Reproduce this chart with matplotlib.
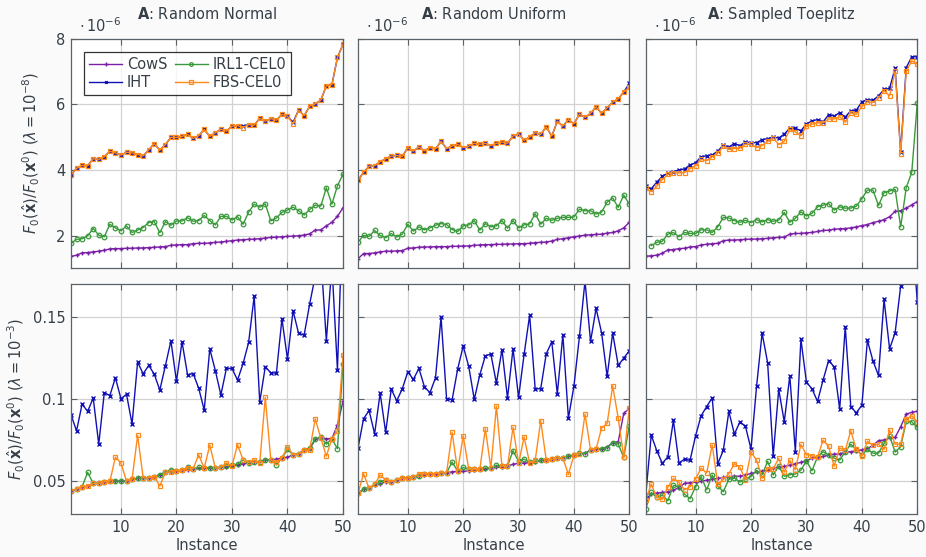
import numpy as np
import matplotlib
matplotlib.use("Agg")
import matplotlib.pyplot as plt

# ---------------------------------------------------------------- data
instances = list(range(1, 51))
x_ticks = [10, 20, 30, 40, 50]
top_ticks = [2, 4, 6, 8]
bottom_ticks = [0.05, 0.1, 0.15]
bottom_tick_labels = ["0.05", "0.1", "0.15"]
titles = ["Random Normal", "Random Uniform", "Sampled Toeplitz"]
methods = ["CowS", "IRL1-CEL0", "IHT", "FBS-CEL0"]

# lambda = 1e-8 (values in units of 1e-6)
cows_normal_e8 = [1.38, 1.42, 1.49, 1.50, 1.52, 1.54, 1.57, 1.61, 1.62, 1.62,
                  1.63, 1.63, 1.64, 1.64, 1.65, 1.66, 1.67, 1.68, 1.72, 1.73,
                  1.74, 1.74, 1.77, 1.78, 1.78, 1.79, 1.81, 1.82, 1.84, 1.86,
                  1.88, 1.89, 1.90, 1.91, 1.92, 1.94, 1.96, 1.97, 1.98, 1.99,
                  2.00, 2.01, 2.03, 2.07, 2.18, 2.19, 2.31, 2.42, 2.60, 2.86]
irl1_normal_e8 = [1.78, 1.90, 1.92, 2.01, 2.23, 2.03, 1.98, 2.36, 2.25, 2.16,
                  2.31, 2.11, 2.18, 2.26, 2.41, 2.44, 2.10, 2.44, 2.33, 2.46,
                  2.46, 2.56, 2.45, 2.47, 2.63, 2.47, 2.34, 2.60, 2.60, 2.49,
                  2.59, 2.36, 2.73, 2.97, 2.88, 2.98, 2.46, 2.55, 2.72, 2.79,
                  2.88, 2.77, 2.64, 2.81, 2.94, 2.91, 3.47, 2.97, 3.53, 3.88]
iht_normal_e8 = [3.86, 4.06, 4.15, 4.14, 4.35, 4.33, 4.41, 4.58, 4.53, 4.46,
                 4.55, 4.53, 4.48, 4.44, 4.62, 4.81, 4.61, 4.78, 5.00, 5.00,
                 5.03, 5.09, 4.97, 5.05, 5.24, 5.03, 5.14, 5.25, 5.19, 5.34,
                 5.36, 5.34, 5.39, 5.37, 5.58, 5.49, 5.57, 5.52, 5.70, 5.64,
                 5.46, 5.83, 5.66, 5.95, 6.02, 6.13, 6.57, 6.60, 7.43, 7.83]
fbs_normal_e8 = [3.86, 4.06, 4.15, 4.14, 4.35, 4.33, 4.41, 4.58, 4.53, 4.46,
                 4.55, 4.53, 4.48, 4.44, 4.62, 4.81, 4.61, 4.78, 5.00, 5.00,
                 5.03, 5.09, 4.97, 5.05, 5.24, 5.03, 5.14, 5.25, 5.19, 5.34,
                 5.36, 5.30, 5.39, 5.37, 5.58, 5.49, 5.57, 5.52, 5.70, 5.64,
                 5.41, 5.83, 5.66, 5.95, 6.02, 6.13, 6.57, 6.60, 7.43, 7.83]

cows_uniform_e8 = [1.31, 1.47, 1.47, 1.49, 1.52, 1.54, 1.54, 1.55, 1.56, 1.63,
                   1.64, 1.66, 1.67, 1.67, 1.68, 1.68, 1.68, 1.69, 1.69, 1.70,
                   1.70, 1.72, 1.73, 1.74, 1.74, 1.75, 1.75, 1.76, 1.76, 1.77,
                   1.77, 1.78, 1.80, 1.81, 1.82, 1.85, 1.90, 1.92, 1.95, 1.98,
                   2.00, 2.03, 2.04, 2.05, 2.06, 2.09, 2.11, 2.16, 2.25, 2.42]
irl1_uniform_e8 = [1.81, 2.02, 1.99, 2.17, 2.02, 1.95, 2.08, 1.97, 2.06, 2.36,
                   2.15, 2.28, 2.19, 2.25, 2.33, 2.38, 2.35, 2.20, 2.14, 2.31,
                   2.34, 2.47, 2.18, 2.38, 2.28, 2.31, 2.47, 2.24, 2.47, 2.25,
                   2.34, 2.37, 2.68, 2.36, 2.54, 2.48, 2.54, 2.57, 2.57, 2.58,
                   2.82, 2.77, 2.77, 2.67, 2.73, 3.03, 3.16, 2.87, 3.25, 2.97]
iht_uniform_e8 = [3.69, 3.94, 4.12, 4.14, 4.26, 4.35, 4.43, 4.45, 4.42, 4.69,
                  4.58, 4.71, 4.59, 4.69, 4.65, 4.88, 4.66, 4.74, 4.79, 4.69,
                  4.73, 4.82, 4.79, 4.82, 4.75, 4.82, 4.86, 4.82, 5.04, 5.11,
                  4.91, 5.01, 5.14, 5.09, 5.32, 5.04, 5.49, 5.34, 5.54, 5.41,
                  5.71, 5.61, 5.73, 5.93, 5.73, 5.90, 6.07, 6.17, 6.38, 6.64]
fbs_uniform_e8 = [3.69, 3.94, 4.12, 4.14, 4.26, 4.35, 4.43, 4.45, 4.42, 4.69,
                  4.58, 4.71, 4.59, 4.69, 4.65, 4.88, 4.66, 4.74, 4.79, 4.69,
                  4.73, 4.82, 4.79, 4.82, 4.75, 4.82, 4.86, 4.82, 5.04, 5.11,
                  4.91, 5.01, 5.14, 5.09, 5.32, 5.04, 5.49, 5.34, 5.54, 5.41,
                  5.71, 5.61, 5.73, 5.93, 5.73, 5.90, 6.07, 6.17, 6.38, 6.52]

cows_toeplitz_e8 = [1.39, 1.40, 1.42, 1.48, 1.58, 1.59, 1.62, 1.63, 1.67, 1.68,
                    1.73, 1.75, 1.77, 1.78, 1.86, 1.88, 1.88, 1.89, 1.90, 1.91,
                    1.91, 1.92, 1.93, 1.95, 1.96, 1.97, 2.06, 2.08, 2.08, 2.10,
                    2.11, 2.14, 2.17, 2.18, 2.21, 2.22, 2.23, 2.25, 2.28, 2.32,
                    2.35, 2.41, 2.45, 2.50, 2.59, 2.75, 2.77, 2.85, 2.95, 3.05]
irl1_toeplitz_e8 = [np.nan, 1.71, 1.81, 1.84, 2.06, 2.11, 1.98, 2.11, 2.08, 2.08,
                    2.19, 2.19, 2.11, 2.28, 2.57, 2.55, 2.47, 2.42, 2.48, 2.41,
                    2.50, 2.43, 2.50, 2.45, 2.49, 2.72, 2.42, 2.54, 2.74, 2.61,
                    2.69, 2.89, 2.94, 2.99, 2.79, 2.89, 2.85, 2.85, 2.91, 3.14,
                    3.40, 3.40, 2.93, 3.32, 3.37, 3.42, 2.28, 3.47, 3.94, 6.05]
iht_toeplitz_e8 = [3.52, 3.44, 3.64, 3.82, 3.91, 3.96, 4.01, 4.04, 4.16, 4.23,
                   4.41, 4.44, 4.47, 4.58, 4.77, 4.71, 4.81, 4.75, 4.86, 4.84,
                   4.84, 4.93, 4.96, 5.01, 4.98, 5.10, 5.28, 5.28, 5.20, 5.41,
                   5.50, 5.54, 5.47, 5.69, 5.65, 5.75, 5.62, 5.81, 5.83, 6.08,
                   6.15, 6.13, 6.26, 6.46, 6.49, 7.11, 4.56, 7.12, 7.45, 7.45]
fbs_toeplitz_e8 = [3.45, 3.35, 3.51, 3.72, 3.88, 3.92, 3.92, 3.93, 4.05, 4.14,
                   4.33, 4.29, 4.41, 4.52, 4.73, 4.64, 4.66, 4.68, 4.79, 4.79,
                   4.69, 4.75, 4.88, 4.98, 4.78, 4.88, 5.24, 5.17, 5.05, 5.35,
                   5.40, 5.44, 5.44, 5.56, 5.56, 5.63, 5.46, 5.75, 5.70, 5.94,
                   6.08, 6.06, 6.19, 6.42, 6.26, 7.01, 4.51, 7.01, 7.32, 7.23]

# lambda = 1e-3
cows_normal_e3 = [0.0443, 0.0453, 0.0468, 0.0470, 0.0488, 0.0488, 0.0498, 0.0500, 0.0502, 0.0502,
                  0.0504, 0.0514, 0.0518, 0.0522, 0.0522, 0.0530, 0.0541, 0.0555, 0.0559, 0.0565,
                  0.0567, 0.0571, 0.0575, 0.0579, 0.0581, 0.0581, 0.0583, 0.0585, 0.0589, 0.0593,
                  0.0601, 0.0608, 0.0614, 0.0618, 0.0622, 0.0630, 0.0630, 0.0636, 0.0642, 0.0648,
                  0.0662, 0.0668, 0.0689, 0.0697, 0.0756, 0.0764, 0.0760, 0.0760, 0.0845, 0.0987]
irl1_normal_e3 = [0.0443, 0.0453, 0.0468, 0.0555, 0.0488, 0.0488, 0.0498, 0.0500, 0.0502, 0.0502,
                  0.0502, 0.0514, 0.0518, 0.0522, 0.0522, 0.0530, 0.0541, 0.0555, 0.0571, 0.0565,
                  0.0567, 0.0587, 0.0577, 0.0585, 0.0581, 0.0581, 0.0581, 0.0589, 0.0595, 0.0599,
                  0.0605, 0.0630, 0.0610, 0.0618, 0.0618, 0.0630, 0.0630, 0.0601, 0.0642, 0.0695,
                  0.0662, 0.0668, 0.0693, 0.0703, 0.0760, 0.0768, 0.0727, 0.0760, 0.0699, 0.1216]
iht_normal_e3 = [0.0906, 0.0808, 0.0971, 0.0926, 0.1008, 0.0727, 0.1040, 0.1023, 0.1131, 0.1003,
                 0.1031, 0.0849, 0.1226, 0.1155, 0.1206, 0.1153, 0.1056, 0.1204, 0.1356, 0.1109,
                 0.1350, 0.1149, 0.1157, 0.1068, 0.0934, 0.1307, 0.1175, 0.1027, 0.1188, 0.1188,
                 0.1117, 0.1218, 0.1346, 0.1628, 0.0983, 0.1198, 0.1161, 0.1159, 0.1490, 0.1244,
                 0.1539, 0.1401, 0.1391, 0.1581, 0.1750, 0.1880, 0.1356, 0.1820, 0.1180, 0.2200]
fbs_normal_e3 = [0.0443, 0.0453, 0.0468, 0.0470, 0.0488, 0.0488, 0.0498, 0.0500, 0.0648, 0.0612,
                 0.0502, 0.0514, 0.0780, 0.0522, 0.0522, 0.0530, 0.0472, 0.0555, 0.0557, 0.0565,
                 0.0567, 0.0581, 0.0577, 0.0662, 0.0581, 0.0721, 0.0581, 0.0585, 0.0612, 0.0595,
                 0.0723, 0.0632, 0.0616, 0.0628, 0.0612, 0.1011, 0.0630, 0.0616, 0.0644, 0.0709,
                 0.0662, 0.0666, 0.0689, 0.0693, 0.0881, 0.0764, 0.0654, 0.0760, 0.0808, 0.1267]

cows_uniform_e3 = [0.0427, 0.0453, 0.0459, 0.0476, 0.0486, 0.0498, 0.0498, 0.0510, 0.0520, 0.0520,
                   0.0526, 0.0532, 0.0541, 0.0547, 0.0547, 0.0551, 0.0553, 0.0559, 0.0561, 0.0561,
                   0.0565, 0.0569, 0.0573, 0.0577, 0.0581, 0.0585, 0.0589, 0.0593, 0.0605, 0.0610,
                   0.0612, 0.0614, 0.0618, 0.0628, 0.0630, 0.0634, 0.0640, 0.0642, 0.0652, 0.0660,
                   0.0666, 0.0672, 0.0689, 0.0697, 0.0699, 0.0711, 0.0735, 0.0743, 0.0914, 0.0944]
irl1_uniform_e3 = [0.0427, 0.0453, 0.0459, 0.0482, 0.0498, 0.0510, 0.0498, 0.0510, 0.0520, 0.0520,
                   0.0526, 0.0532, 0.0545, 0.0547, 0.0547, 0.0553, 0.0553, 0.0618, 0.0563, 0.0585,
                   0.0575, 0.0573, 0.0573, 0.0581, 0.0581, 0.0599, 0.0593, 0.0593, 0.0687, 0.0622,
                   0.0636, 0.0616, 0.0622, 0.0628, 0.0630, 0.0634, 0.0642, 0.0642, 0.0654, 0.0660,
                   0.0672, 0.0670, 0.0693, 0.0699, 0.0699, 0.0705, 0.0737, 0.0727, 0.0646, 0.0839]
iht_uniform_e3 = [0.0703, 0.0881, 0.0932, 0.0790, 0.1038, 0.0798, 0.1062, 0.0991, 0.1064, 0.1167,
                  0.1121, 0.1188, 0.1076, 0.1040, 0.1131, 0.1500, 0.1003, 0.0997, 0.1184, 0.1324,
                  0.1200, 0.0999, 0.1149, 0.1265, 0.1275, 0.1098, 0.1303, 0.1007, 0.1309, 0.1011,
                  0.1273, 0.1512, 0.1064, 0.1064, 0.1277, 0.1350, 0.1033, 0.1393, 0.0885, 0.1080,
                  0.1384, 0.1720, 0.1352, 0.1553, 0.1405, 0.1139, 0.1403, 0.1206, 0.1251, 0.1295]
fbs_uniform_e3 = [0.0427, 0.0547, 0.0459, 0.0482, 0.0539, 0.0510, 0.0498, 0.0510, 0.0520, 0.0520,
                  0.0526, 0.0547, 0.0545, 0.0547, 0.0547, 0.0553, 0.0553, 0.0798, 0.0563, 0.0778,
                  0.0575, 0.0573, 0.0573, 0.0820, 0.0581, 0.0958, 0.0593, 0.0593, 0.0829, 0.0610,
                  0.0770, 0.0612, 0.0628, 0.0869, 0.0630, 0.0634, 0.0642, 0.0642, 0.0543, 0.0660,
                  0.0666, 0.0910, 0.0693, 0.0699, 0.0825, 0.0853, 0.1082, 0.0885, 0.0646, 0.0944]

cows_toeplitz_e3 = [0.0388, 0.0425, 0.0429, 0.0433, 0.0437, 0.0447, 0.0463, 0.0488, 0.0492, 0.0496,
                    0.0500, 0.0508, 0.0514, 0.0518, 0.0524, 0.0528, 0.0532, 0.0532, 0.0539, 0.0549,
                    0.0555, 0.0563, 0.0569, 0.0581, 0.0587, 0.0591, 0.0599, 0.0608, 0.0616, 0.0626,
                    0.0642, 0.0646, 0.0652, 0.0660, 0.0666, 0.0668, 0.0679, 0.0681, 0.0685, 0.0693,
                    0.0701, 0.0719, 0.0749, 0.0752, 0.0764, 0.0768, 0.0833, 0.0910, 0.0920, 0.0928]
irl1_toeplitz_e3 = [0.0334, 0.0433, 0.0403, 0.0417, 0.0382, 0.0476, 0.0468, 0.0423, 0.0395, 0.0468,
                    0.0530, 0.0449, 0.0539, 0.0472, 0.0437, 0.0514, 0.0520, 0.0496, 0.0512, 0.0530,
                    0.0567, 0.0541, 0.0622, 0.0539, 0.0593, 0.0532, 0.0541, 0.0545, 0.0569, 0.0624,
                    0.0565, 0.0650, 0.0681, 0.0660, 0.0642, 0.0630, 0.0681, 0.0727, 0.0693, 0.0662,
                    0.0695, 0.0672, 0.0672, 0.0731, 0.0776, 0.0679, 0.0711, 0.0865, 0.0863, 0.0829]
iht_toeplitz_e3 = [0.0415, 0.0782, 0.0687, 0.0610, 0.0650, 0.0871, 0.0612, 0.0636, 0.0628, 0.0778,
                   0.0900, 0.0956, 0.1009, 0.0608, 0.0689, 0.0926, 0.0788, 0.0863, 0.0835, 0.0697,
                   0.1078, 0.1403, 0.1222, 0.0654, 0.1060, 0.0863, 0.1143, 0.0681, 0.1366, 0.1104,
                   0.1064, 0.0987, 0.1117, 0.1236, 0.1198, 0.0940, 0.1441, 0.0954, 0.0918, 0.0964,
                   0.1358, 0.1234, 0.1145, 0.1608, 0.1307, 0.1405, 0.1689, 0.1900, 0.2050, 0.1591]
fbs_toeplitz_e3 = [0.0386, 0.0484, 0.0403, 0.0392, 0.0466, 0.0518, 0.0494, 0.0449, 0.0468, 0.0516,
                   0.0581, 0.0551, 0.0721, 0.0484, 0.0512, 0.0547, 0.0608, 0.0585, 0.0510, 0.0679,
                   0.0630, 0.0522, 0.0577, 0.0577, 0.0640, 0.0557, 0.0628, 0.0571, 0.0725, 0.0662,
                   0.0656, 0.0648, 0.0752, 0.0713, 0.0593, 0.0703, 0.0689, 0.0808, 0.0695, 0.0654,
                   0.0745, 0.0719, 0.0727, 0.0695, 0.0812, 0.0727, 0.0727, 0.0881, 0.0900, 0.0861]

# ---------------------------------------------------------------- styling
TEXT = "#363f48"
SPINE = "#5a6268"
GRID = "#d2d2d2"
colors = {"CowS": "#7a1fa6", "IRL1-CEL0": "#3a9a3a",
          "IHT": "#1010b4", "FBS-CEL0": "#ff8a1c"}
markers = {"CowS": dict(marker="+", ms=3.4, mew=1.0),
           "IRL1-CEL0": dict(marker="o", ms=3.3, mew=0.9, mfc="none"),
           "IHT": dict(marker="x", ms=2.4, mew=1.0),
           "FBS-CEL0": dict(marker="s", ms=3.3, mew=0.9, mfc="none")}

plt.rcParams.update({
    "font.family": ["DejaVu Sans"],
    "mathtext.fontset": "dejavusans",
    "font.size": 10.5,
    "text.color": TEXT,
    "axes.labelcolor": TEXT,
    "xtick.color": SPINE,
    "ytick.color": SPINE,
    "xtick.labelcolor": TEXT,
    "ytick.labelcolor": TEXT,
})

fig = plt.figure(figsize=(9.26, 5.57), dpi=100, facecolor="#fafafa")

lefts = [71, 358, 645.7]
widths = [272, 271.3, 271.6]
rows = [(38.7, 268.0), (284.3, 514.3)]
W, H = 926.0, 557.0

top_data = [
    [cows_normal_e8, irl1_normal_e8, iht_normal_e8, fbs_normal_e8],
    [cows_uniform_e8, irl1_uniform_e8, iht_uniform_e8, fbs_uniform_e8],
    [cows_toeplitz_e8, irl1_toeplitz_e8, iht_toeplitz_e8, fbs_toeplitz_e8],
]
bottom_data = [
    [cows_normal_e3, irl1_normal_e3, iht_normal_e3, fbs_normal_e3],
    [cows_uniform_e3, irl1_uniform_e3, iht_uniform_e3, fbs_uniform_e3],
    [cows_toeplitz_e3, irl1_toeplitz_e3, iht_toeplitz_e3, fbs_toeplitz_e3],
]


def style_axes(ax):
    ax.set_facecolor("white")
    ax.set_xlim(1, 50)
    ax.set_xticks(x_ticks)
    ax.grid(True, color=GRID, lw=0.9)
    ax.set_axisbelow(True)
    for s in ax.spines.values():
        s.set_color(SPINE)
        s.set_linewidth(0.9)
    ax.tick_params(direction="in", length=4, width=0.8, top=True, right=True,
                   pad=4, labelsize=10.5)


handles = {}
for r, (y0, y1) in enumerate(rows):
    for c in range(3):
        ax = fig.add_axes([lefts[c] / W, 1 - y1 / H, widths[c] / W, (y1 - y0) / H])
        style_axes(ax)
        data = top_data[c] if r == 0 else bottom_data[c]
        for name, vals in zip(methods, data):
            ln, = ax.plot(instances, vals, color=colors[name], lw=1.0,
                          mec=colors[name], **markers[name])
            handles[name] = ln
        if r == 0:
            ax.set_ylim(1.03, 8.0)
            ax.set_yticks(top_ticks)
            ax.tick_params(labelbottom=False)
            ax.set_title(r"$\mathbf{A}$: " + titles[c], fontsize=10.5, color=TEXT, pad=14)
            ax.text(0.03, 1.015, r"$\cdot\,10^{-6}$", transform=ax.transAxes,
                    ha="left", va="bottom", fontsize=10.5, color=TEXT)
        else:
            ax.set_ylim(0.03, 0.17)
            ax.set_yticks(bottom_ticks)
            ax.set_xlabel("Instance", fontsize=10.5, labelpad=2)
        if c == 0:
            if r == 0:
                ax.set_yticklabels([str(t) for t in top_ticks])
                ax.set_ylabel(r"$F_0(\hat{\mathbf{x}})/F_0(\mathbf{x}^0)$ $(\lambda = 10^{-8})$",
                              labelpad=10)
                leg = ax.legend([handles[m] for m in ["CowS", "IHT", "IRL1-CEL0", "FBS-CEL0"]],
                                ["CowS", "IHT", "IRL1-CEL0", "FBS-CEL0"],
                                ncol=2, loc="upper left", bbox_to_anchor=(0.02, 0.975),
                                frameon=True, fancybox=False, edgecolor="black",
                                handlelength=2.3, handletextpad=0.3, columnspacing=0.5,
                                borderpad=0.35, labelspacing=0.2, fontsize=10.5,
                                markerscale=0.8)
                leg.get_frame().set_linewidth(0.9)
            else:
                ax.set_yticklabels(bottom_tick_labels)
                ax.set_ylabel(r"$F_0(\hat{\mathbf{x}})/F_0(\mathbf{x}^0)$ $(\lambda = 10^{-3})$",
                              labelpad=4)
        else:
            ax.tick_params(labelleft=False)

fig.savefig("out.png", dpi=100, facecolor=fig.get_facecolor())
